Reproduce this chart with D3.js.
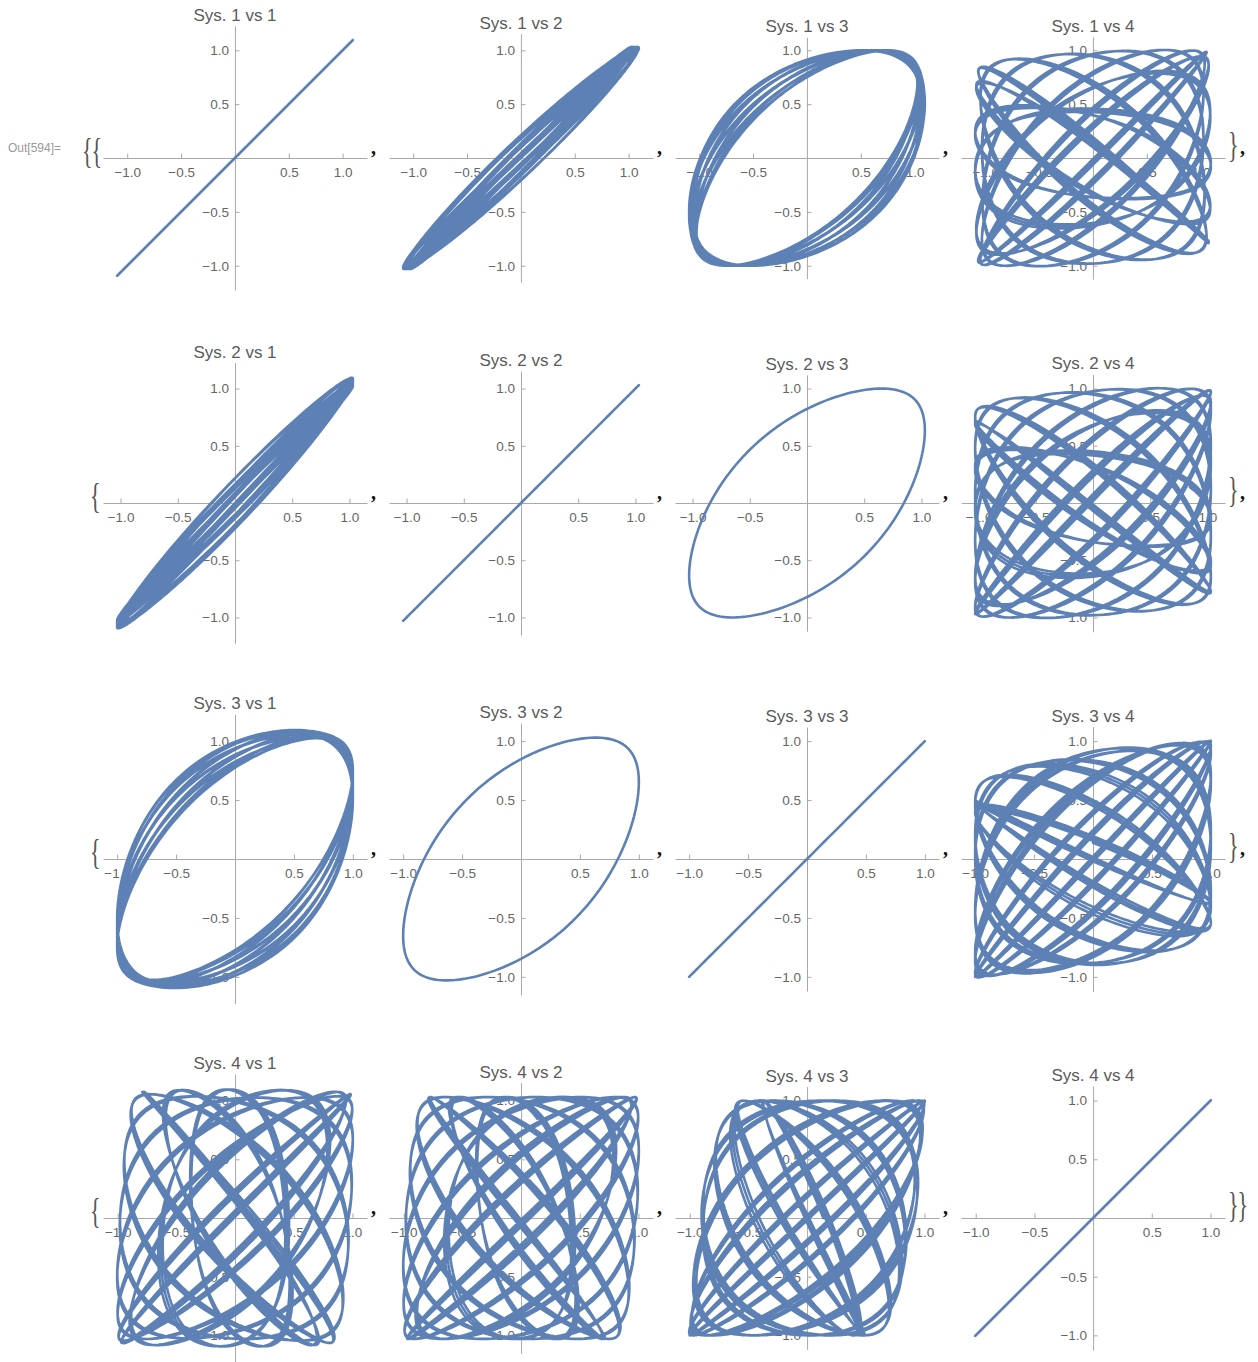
<!DOCTYPE html>
<html><head><meta charset="utf-8">
<script src="https://cdn.jsdelivr.net/npm/d3@7"></script>
<style>body{margin:0;background:#fff}</style>
</head><body>
<svg id="c" width="1258" height="1362" xmlns="http://www.w3.org/2000/svg"></svg>
<script>
// ---------------- data ----------------
const systems = ["1", "2", "3", "4"];
const sysAmplitude = [1.06, 1.03, 1.00, 1.06];   // peak value of each system
const sysPhaseDeg = [53, 53, 0, 0];               // mean phase, relative to Sys. 3
const sys1WobbleDeg = [2, 9];                     // Sys. 1 extra phase: centre, swing
const sys1AmpSwing = 0.035;                       // Sys. 1 amplitude swing
const harmonic3 = 0.02;                           // flattening of the wave form
const nPeriods = 33.15;                           // oscillation periods plotted
const slipCycles = 3;                             // phase slips of Sys. 4
const slipCentreDeg = 160;                        // phase of Sys. 4 (vs Sys. 3) at fastest slip
const slipSkew = 0.35;                            // non-uniformity of the slip
const sys4Dip = [0.65, 165, 53, 12];              // amplitude dip of Sys. 4: depth, centre, mean width, width skew
const samplesPerPeriod = 180;
const majorTicks = [-1.0, -0.5, 0.5, 1.0];
const tickLabels = ["\u22121.0", "\u22120.5", "0.5", "1.0"];
const minorStep = 0.1;
const outLabel = "Out[594]=";

// ---------------- build the four time series ----------------
const rad = Math.PI / 180;
const wave = th => (Math.sin(th) + harmonic3 * Math.sin(3 * th)) / (1 - harmonic3);
const series = [[], [], [], []];
const nSamples = Math.round(nPeriods * samplesPerPeriod);
for (let k = 0; k <= nSamples; k++) {
  const t = k / samplesPerPeriod;
  const th = 2 * Math.PI * t;
  const u = 2 * Math.PI * slipCycles * t / nPeriods;
  const psi = slipCentreDeg * rad + u + slipSkew * Math.sin(u);
  const wob = (sys1WobbleDeg[0] + sys1WobbleDeg[1] * Math.sin(u + 0.8)) * rad;
  series[0].push((sysAmplitude[0] + sys1AmpSwing * Math.cos(u)) * wave(th + sysPhaseDeg[0] * rad + wob));
  series[1].push(sysAmplitude[1] * wave(th + sysPhaseDeg[1] * rad));
  series[2].push(sysAmplitude[2] * wave(th + sysPhaseDeg[2] * rad));
  const pd = (((psi / rad - sys4Dip[1]) % 360) + 540) % 360 - 180;
  const w = sys4Dip[2] + sys4Dip[3] * Math.sin(pd * rad);
  const dip = 1 / (1 + (pd / w) * (pd / w));
  const B = sysAmplitude[3] * (1 - sys4Dip[0] * dip);
  series[3].push(B * wave(th + psi));
}

// ---------------- layout ----------------
const colLeft = [103, 389, 675, 961];
const panelW = 264;
const baselines = [158, 503, 859, 1218];
const padFrac = 0.06;
const curveColor = "#5E81B5";
const axisColor = "#a8a8a8";
const labelColor = "#666666";
const font = "'Liberation Sans', Arial, sans-serif";

const svg = d3.select("#c");
const idx = d3.range(nSamples + 1);

systems.forEach((sx, r) => {
  systems.forEach((sy, c) => {
    const xs = series[r], ys = series[c];
    const L = colLeft[c], Y = baselines[r];
    const xe = d3.extent(xs), ye = d3.extent(ys);
    const xp = (xe[1] - xe[0]) * padFrac, yp = (ye[1] - ye[0]) * padFrac;
    const xd = [xe[0] - xp, xe[1] + xp], yd = [ye[0] - yp, ye[1] + yp];
    const k = panelW / (xd[1] - xd[0]);
    const x = d3.scaleLinear().domain(xd).range([L, L + panelW]);
    const y = d3.scaleLinear().domain(yd).range([Y - yd[0] * k, Y - yd[1] * k]);
    const g = svg.append("g");

    const minor = dom => d3.range(Math.ceil(dom[0] / minorStep - 1e-9), Math.floor(dom[1] / minorStep + 1e-9) + 1)
      .map(i => +(i * minorStep).toFixed(2))
      .filter(v => v !== 0 && Math.abs(v * 2 - Math.round(v * 2)) > 1e-6);

    // x axis
    const gx = g.append("g").attr("transform", `translate(0,${Y})`);
    gx.call(d3.axisBottom(x).tickValues(minor(xd)).tickFormat("").tickSizeInner(-2.5).tickSizeOuter(0));
    gx.call(d3.axisBottom(x).tickValues(majorTicks).tickFormat((d, i) => tickLabels[i]).tickSizeInner(-4.5).tickSizeOuter(0).tickPadding(9));
    // y axis
    const gy = g.append("g").attr("transform", `translate(${x(0)},0)`);
    gy.call(d3.axisLeft(y).tickValues(minor(yd)).tickFormat("").tickSizeInner(-2.5).tickSizeOuter(0));
    gy.call(d3.axisLeft(y).tickValues(majorTicks).tickFormat((d, i) => tickLabels[i]).tickSizeInner(-4.5).tickSizeOuter(0).tickPadding(6));
    g.selectAll(".domain").attr("stroke", axisColor).attr("stroke-width", 1);
    g.selectAll(".tick line").attr("stroke", axisColor).attr("stroke-width", 1);
    g.selectAll(".tick text").attr("fill", labelColor).style("font-family", font).style("font-size", "13.5px");

    // curve
    g.append("path")
      .attr("d", d3.line().x(i => x(xs[i])).y(i => y(ys[i]))(idx))
      .attr("fill", "none").attr("stroke", curveColor)
      .attr("stroke-width", 2.6).attr("stroke-linejoin", "round").attr("stroke-linecap", "round");

    // title
    g.append("text").attr("x", L + panelW / 2).attr("y", y(yd[1]) - 5)
      .attr("text-anchor", "middle").attr("fill", "#5a5a5a")
      .style("font-family", font).style("font-size", "17px")
      .text(`Sys. ${sx} vs ${sy}`);

    // separators
    if (c < 3) {
      svg.append("text").attr("x", L + panelW + 4).attr("y", Y - 4)
        .attr("fill", "#111").style("font-family", "'Liberation Serif', serif")
        .style("font-weight", "bold").style("font-size", "20px").text(",");
    }
  });
});

// braces and output label
const brace = (xPos, centreY, txt) => {
  svg.append("text")
    .attr("transform", `translate(${xPos},${centreY + 8.3}) scale(1,1.6)`)
    .attr("fill", "#555").style("font-family", "'Liberation Serif', serif")
    .style("font-size", "22px").style("letter-spacing", "-1px").text(txt);
};
svg.append("text").attr("x", 8).attr("y", baselines[0] - 6).attr("fill", "#9a9a9a")
  .style("font-family", font).style("font-size", "12px").text(outLabel);
baselines.forEach((Y, r) => {
  brace(r === 0 ? 82 : 90, Y - 3, r === 0 ? "{{" : "{");
  brace(1228, Y - 9, r === 3 ? "}}" : "}");
  if (r < 3) {
    svg.append("text").attr("x", 1240).attr("y", Y - 4)
      .attr("fill", "#111").style("font-family", "'Liberation Serif', serif")
      .style("font-weight", "bold").style("font-size", "20px").text(",");
  }
});
</script>
</body></html>
